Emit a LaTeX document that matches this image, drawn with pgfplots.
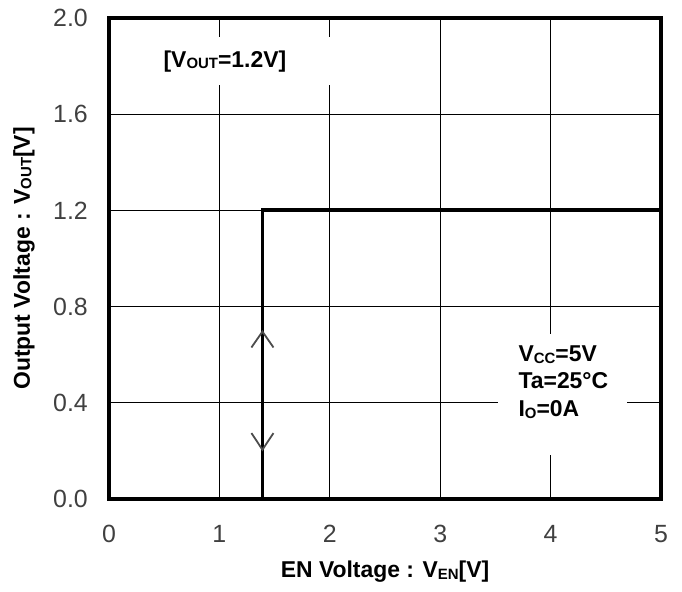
\documentclass[border=0pt]{standalone}
\usepackage{fontspec}
\setmainfont{Liberation Sans}
\usepackage{pgfplots}
\pgfplotsset{compat=1.18}
\newcommand\lab{\fontsize{23}{27}\selectfont\bfseries}
\newcommand\sub[1]{\raisebox{-1.5bp}{\fontsize{15}{15}\selectfont #1}}
\begin{document}
\begin{tikzpicture}
\begin{axis}[
  scale only axis, width=552bp, height=481bp,
  xmin=0, xmax=5, ymin=0, ymax=2,
  xtick={0,1,2,3,4,5}, xticklabels={0,1,2,3,4,5},
  ytick={0,0.4,0.8,1.2,1.6,2.0}, yticklabels={0.0,0.4,0.8,1.2,1.6,2.0},
  grid=major, major grid style={black, line width=1.3bp},
  major tick length=0pt,
  axis line style={line width=4.5bp},
  tick label style={font=\fontsize{25}{25}\selectfont, text=black!75},
  yticklabel style={anchor=east, inner sep=0pt, xshift=-21bp},
  xticklabel style={anchor=north, inner sep=0pt, yshift=-26bp},
  xlabel={EN Voltage : V\sub{EN}[V]},
  xlabel style={font=\lab, at={(rel axis cs:0.5,-0.152)}, anchor=center},
  ylabel={Output Voltage : V\sub{OUT}[V]},
  ylabel style={font=\lab, at={(rel axis cs:-0.154,0.5)}, anchor=center},
  clip=false,
]
% white boxes behind annotations
\fill[white] (axis cs:0.28,1.921) rectangle (axis cs:2.14,1.721);
\fill[white] (axis cs:3.524,0.686) rectangle (axis cs:4.69,0.183);
% step response
\addplot[black, line width=3.8bp, line join=miter] coordinates {(1.39,0) (1.39,1.2) (5,1.2)};
% chevrons
\addplot[black!70, line width=1.8bp] coordinates {(1.29,0.630) (1.39,0.696) (1.49,0.630)};
\addplot[black!70, line width=1.8bp] coordinates {(1.29,0.274) (1.39,0.205) (1.49,0.274)};
\node[font=\lab, anchor=center] at (axis cs:1.05,1.82) {[V\sub{OUT}=1.2V]};
\node[font=\lab, anchor=base west] at (axis cs:3.678,0.570) {V\sub{CC}=5V};
\node[font=\lab, anchor=base west] at (axis cs:3.678,0.4615) {Ta=25°C};
\node[font=\lab, anchor=base west] at (axis cs:3.678,0.341) {I\sub{O}=0A};
\end{axis}
\path (-109bp,-93bp) rectangle (573bp,499bp);
\end{tikzpicture}
\end{document}
